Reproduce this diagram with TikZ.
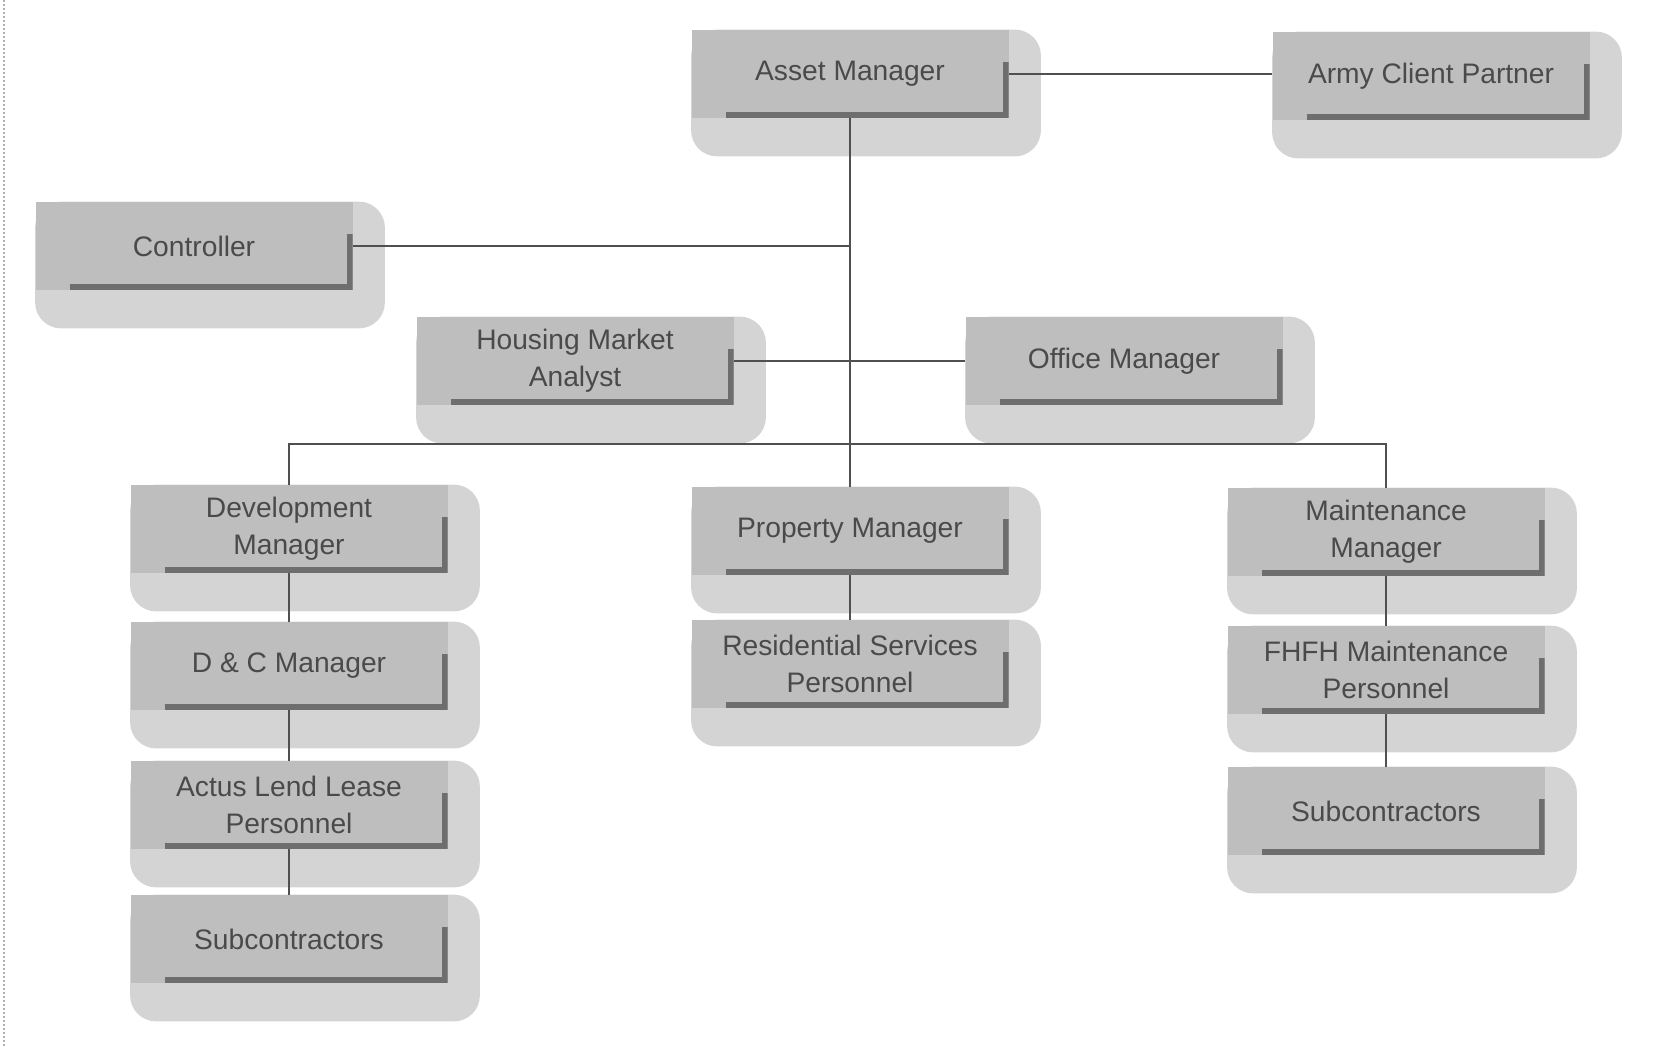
\documentclass[tikz,border=0pt]{standalone}
\usepackage{fontspec}
\setmainfont{Liberation Sans}
\usetikzlibrary{backgrounds}
\definecolor{facecol}{HTML}{BEBEBE}
\definecolor{halocol}{HTML}{D4D4D4}
\definecolor{darkline}{HTML}{6E6E6E}
\definecolor{textcol}{HTML}{4A4A4A}
\definecolor{conncol}{HTML}{505050}
\tikzset{
  orgbox/.style={rectangle, fill=facecol, minimum width=158.5pt, minimum height=44pt,
    inner sep=0pt, align=center, text=textcol,
    font=\fontsize{14.1pt}{18.5pt}\selectfont,
    path picture={\draw[line width=3pt, darkline]
      ([xshift=17pt,yshift=1.5pt]path picture bounding box.south west) --
      ([xshift=-1.5pt,yshift=1.5pt]path picture bounding box.south east) --
      ([xshift=-1.5pt,yshift=-16pt]path picture bounding box.north east);}},
  conn/.style={draw=conncol, line width=1.4pt},
  halo/.style={fill=halocol, rounded corners=13pt}
}
\newcommand\halobox[1]{\fill[halo] (#1.north west) rectangle ([xshift=16pt,yshift=-19pt]#1.south east);}
\begin{document}
\begin{tikzpicture}[x=0.5pt,y=-0.5pt]
\useasboundingbox (0,0) rectangle (1654,1046);
\draw[gray!60, line width=1pt, densely dotted] (4,0) -- (4,1046);

\node[orgbox] (asset) at (850,74) {Asset Manager};
\node[orgbox] (army) at (1431,76) {Army Client Partner};
\node[orgbox] (ctrl) at (194,246) {Controller};
\node[orgbox] (hma) at (575,361) {Housing Market\\Analyst};
\node[orgbox] (office) at (1124,361) {Office Manager};
\node[orgbox] (dev) at (289,529) {Development\\Manager};
\node[orgbox] (dc) at (289,666) {D \& C Manager};
\node[orgbox] (actus) at (289,805) {Actus Lend Lease\\Personnel};
\node[orgbox] (subl) at (289,939) {Subcontractors};
\node[orgbox] (prop) at (850,531) {Property Manager};
\node[orgbox] (res) at (850,664) {Residential Services\\Personnel};
\node[orgbox] (maint) at (1386,532) {Maintenance\\Manager};
\node[orgbox] (fhfh) at (1386,670) {FHFH Maintenance\\Personnel};
\node[orgbox] (subr) at (1386,811) {Subcontractors};

\begin{scope}[on background layer]
\foreach \n in {asset,army,ctrl,hma,office,dev,dc,actus,subl,prop,res,maint,fhfh,subr}{\halobox{\n}}
\end{scope}

\coordinate (bus) at (850,444);
\draw[conn] (asset.east) -- (asset.east -| army.west);
\draw[conn] (asset.south) -- (prop.north);
\draw[conn] (ctrl.east) -- (ctrl.east -| asset.south);
\draw[conn] (hma.east) -- (office.west);
\draw[conn] (dev.north) |- (bus) -| (maint.north);
\draw[conn] (dev.south) -- (dc.north);
\draw[conn] (dc.south) -- (actus.north);
\draw[conn] (actus.south) -- (subl.north);
\draw[conn] (prop.south) -- (res.north);
\draw[conn] (maint.south) -- (fhfh.north);
\draw[conn] (fhfh.south) -- (subr.north);
\end{tikzpicture}
\end{document}
